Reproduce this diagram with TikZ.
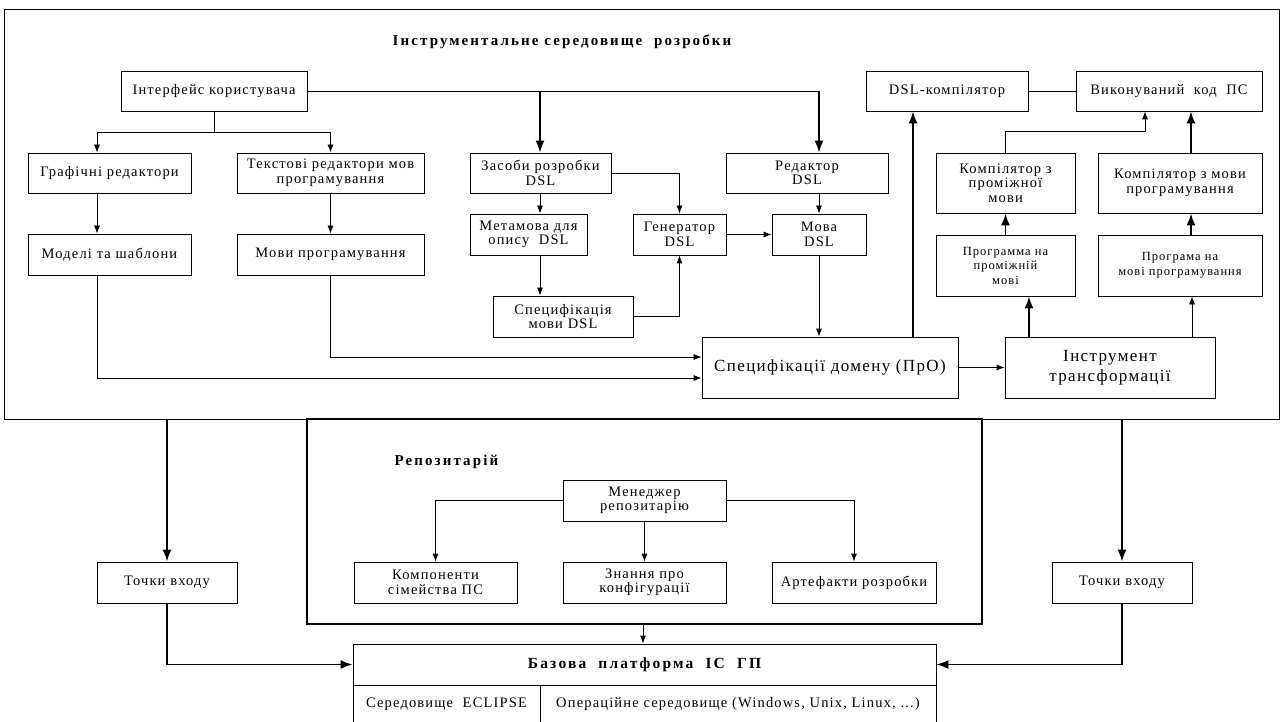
\documentclass[tikz,border=0pt]{standalone}
\usepackage{fontspec}
\setmainfont{Liberation Serif}[LetterSpace=8]
\usetikzlibrary{arrows.meta}
\tikzstyle{box}=[draw, rectangle, align=center, inner sep=0pt, line width=0.8pt, font=\fontsize{14.5}{14.5}\selectfont]
\tikzstyle{bigbox}=[box, font=\fontsize{17}{20}\selectfont]
\tikzstyle{smallbox}=[box, font=\fontsize{12.5}{14.5}\selectfont]
\tikzstyle{frame}=[draw, rectangle, inner sep=0pt]
\tikzstyle{ttl}=[font=\fontsize{15}{17}\selectfont\bfseries\addfontfeature{LetterSpace=14}]
\tikzstyle{line}=[-, line width=0.8pt]
\tikzstyle{arr}=[-{Latex[length=8pt,width=6pt]}, line width=0.8pt]
\tikzstyle{fat}=[-{Latex[length=12pt,width=9pt]}, line width=1.8pt]

\begin{document}
\begin{tikzpicture}[x=1pt,y=-1pt]
            \useasboundingbox (0,0) rectangle (1283,722);
            % frames
            \node[frame, line width=0.8pt, minimum width=1275pt, minimum height=410pt] (ide) at (641.5,214) {};
            \node[frame, line width=1.8pt, minimum width=675pt, minimum height=205pt] (repo) at (644.5,521.5) {};
            \node[ttl] (idettl) at (562,42) {Інструментальне середовище\ \ розробки};
            \node[ttl, anchor=west] (repottl) at (391,462) {Репозитарій};

            % left part
            \node[box, minimum width=186pt, minimum height=40pt] (ui) at (214,91) {Інтерфейс користувача};
            \node[box, minimum width=163pt, minimum height=40pt] (graph) at (109.5,173) {Графічні редактори};
            \node[box, minimum width=187pt, minimum height=40pt] (texted) at (330.5,173) {Текстові редактори мов\\програмування};
            \node[box, minimum width=163pt, minimum height=41pt] (models) at (109.5,254.5) {Моделі та шаблони};
            \node[box, minimum width=187pt, minimum height=41pt] (proglang) at (330.5,254.5) {Мови програмування};

            % DSL part
            \node[box, minimum width=141pt, minimum height=40pt] (dsltools) at (540.5,173) {Засоби розробки\\DSL};
            \node[box, minimum width=162pt, minimum height=40pt] (dsled) at (807,173) {Редактор\\DSL};
            \node[box, minimum width=117pt, minimum height=41pt] (meta) at (528.5,234.5) {Метамова для\\опису\ \ DSL};
            \node[box, minimum width=93pt, minimum height=41pt] (gen) at (679.5,234.5) {Генератор\\DSL};
            \node[box, minimum width=94pt, minimum height=41pt] (dsllang) at (819,234.5) {Мова\\DSL};
            \node[box, minimum width=140pt, minimum height=41pt] (langspec) at (563,316.5) {Специфікація\\мови DSL};
            \node[bigbox, minimum width=256pt, minimum height=61pt] (domain) at (830,367.5) {Специфікації домену (ПрО)};
            \node[bigbox, minimum width=210pt, minimum height=61pt] (transf) at (1110,367.5) {Інструмент\\трансформації};

            % right part
            \node[box, minimum width=162pt, minimum height=40pt] (dslcomp) at (947,91) {DSL-компілятор};
            \node[box, minimum width=186pt, minimum height=40pt] (exec) at (1169,91) {Виконуваний\ \ код\ \ ПС};
            \node[box, minimum width=139pt, minimum height=60pt] (compint) at (1005.5,183) {Компілятор з\\проміжної\\мови};
            \node[box, minimum width=164pt, minimum height=60pt] (compprog) at (1180,183) {Компілятор з мови\\програмування};
            \node[smallbox, minimum width=139pt, minimum height=61pt] (progint) at (1005.5,265.5) {Программа на\\проміжній\\мові};
            \node[smallbox, minimum width=164pt, minimum height=61pt] (progprog) at (1180,265.5) {Програма на\\мові програмування};

            % repository
            \node[box, minimum width=163pt, minimum height=41pt] (mgr) at (644.5,500.5) {Менеджер\\репозитарію};
            \node[box, minimum width=163pt, minimum height=41pt] (comps) at (435.5,582.5) {Компоненти\\сімейства ПС};
            \node[box, minimum width=163pt, minimum height=41pt] (know) at (644.5,582.5) {Знання про\\конфігурації};
            \node[box, minimum width=164pt, minimum height=41pt] (artef) at (854,582.5) {Артефакти розробки};
            \node[box, minimum width=140pt, minimum height=41pt] (entryL) at (167,582.5) {Точки входу};
            \node[box, minimum width=140pt, minimum height=41pt] (entryR) at (1122,582.5) {Точки входу};

            % base platform
            \node[box, minimum width=583pt, minimum height=41pt, font=\fontsize{15.5}{17}\selectfont\bfseries\addfontfeature{LetterSpace=14}] (base) at (644.5,664.5) {Базова\ \ платформа\ \ ІС\ \ ГП};
            \node[box, minimum width=187pt, minimum height=38pt] (eclipse) at (446.5,704) {Середовище\ \ ECLIPSE};
            \node[box, minimum width=396pt, minimum height=38pt] (os) at (738,704) {Операційне середовище (Windows, Unix, Linux, ...)};

            \draw[arr] (ui.south) -- ++(0,21) coordinate (uisplit) -| (97,0 |- graph.north);
            \draw[arr] (uisplit) -| (texted.north);
            \draw[arr] (97,0 |- graph.south) -- (97,0 |- models.north);
            \draw[arr] (texted) -- (proglang);
            \draw[arr] (97,0 |- models.south) |- (domain.west |- 0,378);
            \draw[arr] (proglang.south) |- (domain.west |- 0,357);
            \draw[line] (ui.east) -- (819,0 |- ui.east);
            \draw[fat] (540,0 |- ui.east) -- (540,0 |- dsltools.north);
            \draw[fat] (819,0 |- ui.east) -- (819,0 |- dsled.north);
            \draw[arr] (540,0 |- dsltools.south) -- (540,0 |- meta.north);
            \draw[arr] (dsltools.east) -| (gen.north);
            \draw[arr] (gen) -- (dsllang);
            \draw[arr] (819,0 |- dsled.south) -- (dsllang.north);
            \draw[arr] (540,0 |- meta.south) -- (540,0 |- langspec.north);
            \draw[arr] (langspec.east) -| (gen.south);
            \draw[arr] (dsllang.south) -- (dsllang.south |- domain.north);
            \draw[arr] (domain) -- (transf);
            \draw[fat] (913,0 |- domain.north) -- (913,0 |- dslcomp.south);
            \draw[line] (dslcomp) -- (exec);
            \draw[arr] (compint.north) -- ++(0,-21) -| (1145,0 |- exec.south);
            \draw[fat] (1191,0 |- compprog.north) -- (1191,0 |- exec.south);
            \draw[fat] (progint.north) -- (compint.south);
            \draw[fat] (1191,0 |- progprog.north) -- (1191,0 |- compprog.south);
            \draw[fat] (1029,0 |- transf.north) -- (1029,0 |- progint.south);
            \draw[arr] (1192,0 |- transf.north) -- (1192,0 |- progprog.south);

            \draw[arr] (mgr.west) -| (comps.north);
            \draw[arr] (mgr) -- (know);
            \draw[arr] (mgr.east) -| (artef.north);
            \draw[arr] (643,0 |- repo.south) -- (643,0 |- base.north);
            \draw[fat] (ide.south -| entryL) -- (entryL);
            \draw[fat] (entryL.south) |- (base.west);
            \draw[fat] (ide.south -| entryR) -- (entryR);
            \draw[fat] (entryR.south) |- (base.east);
        \end{tikzpicture}
\end{document}
